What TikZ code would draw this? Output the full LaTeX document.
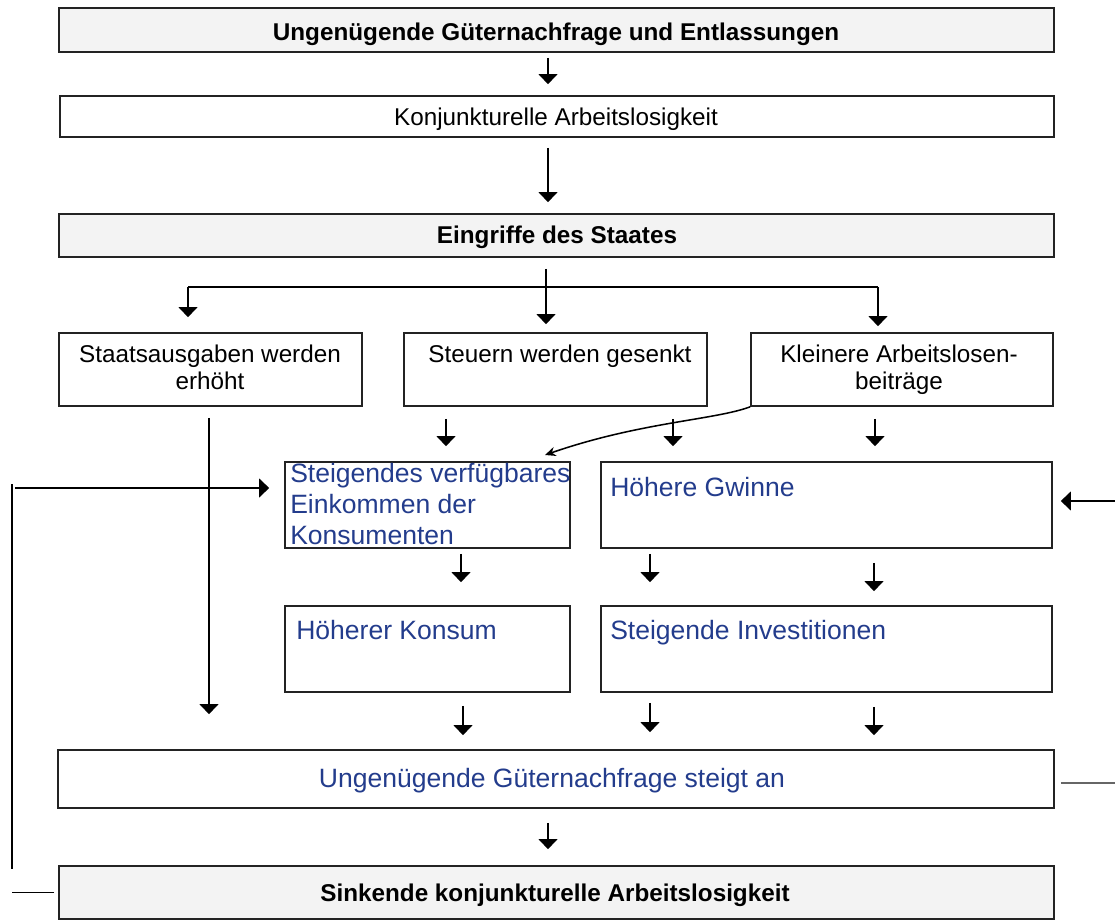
\documentclass[tikz,border=0pt]{standalone}
\usepackage{fontspec}
\setmainfont{Liberation Sans}
\usetikzlibrary{arrows.meta,fit}
\definecolor{boxline}{RGB}{35,35,35}
\definecolor{textblue}{RGB}{35,60,140}
\definecolor{shade}{RGB}{243,243,243}
\begin{document}
\begin{tikzpicture}[x=0.75pt,y=-0.75pt,
  box/.style={draw=boxline, line width=1.2pt, inner sep=0pt},
  shadedbox/.style={box, fill=shade},
  plain/.style={inner sep=0pt, font=\fontsize{18.2}{20.25}\selectfont},
  heavy/.style={inner sep=0pt, font=\fontsize{18.2}{20.25}\selectfont\bfseries},
  bluetext/.style={inner sep=0pt, text=textblue, font=\fontsize{19.9}{23.6}\selectfont},
  arr/.style={line width=1.25pt, -{Triangle[width=14pt,length=7.5pt]}},
  link/.style={line width=1.25pt},
  curvy/.style={line width=1.15pt, -{Stealth[length=8pt,width=7pt]}},
]
\useasboundingbox (0,0) rectangle (1115,921);

% boxes
\node[shadedbox, fit={(59,8) (1054,52)}] (b1) {};
\node[box, fit={(60,96) (1054,137)}] (b2) {};
\node[shadedbox, fit={(59,214) (1054,257)}] (b3) {};
\node[box, fit={(59,333) (362,406)}] (b4) {};
\node[box, fit={(404,333) (707,406)}] (b5) {};
\node[box, fit={(751,333) (1053,406)}] (b6) {};
\node[box, fit={(285,462) (570,548)}] (b7) {};
\node[box, fit={(601,462) (1052,548)}] (b8) {};
\node[box, fit={(285,606) (570,692)}] (b9) {};
\node[box, fit={(601,606) (1052,692)}] (b10) {};
\node[box, fit={(58,750) (1054,808)}] (b11) {};
\node[shadedbox, fit={(59,866) (1054,919)}] (b12) {};

% texts
\node[heavy, anchor=base] (t1) at (556,40) {Ungenügende Güternachfrage und Entlassungen};
\node[plain, anchor=base] (t2) at (556,125) {Konjunkturelle Arbeitslosigkeit};
\node[heavy, anchor=base] (t3) at (557,243) {Eingriffe des Staates};
\node[plain, anchor=base] (t4) at (210,362) {\begin{tabular}[t]{@{}c@{}}Staatsausgaben werden\\erhöht\end{tabular}};
\node[plain, anchor=base] (t5) at (560,362) {Steuern werden gesenkt};
\node[plain, anchor=base] (t6) at (899,362) {\begin{tabular}[t]{@{}c@{}}Kleinere Arbeitslosen-\\beiträge\end{tabular}};
\node[bluetext, anchor=base west] (t7) at (290,482) {\begin{tabular}[t]{@{}l@{}}Steigendes verfügbares\\Einkommen der\\Konsumenten\end{tabular}};
\node[bluetext, anchor=base west] (t8) at (610,496) {Höhere Gwinne};
\node[bluetext, anchor=base west] (t9) at (296,639) {Höherer Konsum};
\node[bluetext, anchor=base west] (t10) at (610,639) {Steigende Investitionen};
\node[bluetext, anchor=base] (t11) at (552,787) {Ungenügende Güternachfrage steigt an};
\node[heavy, anchor=base] (t12) at (555,901) {Sinkende konjunkturelle Arbeitslosigkeit};

% main chain
\draw[arr, shorten <=3.75pt, shorten >=8.25pt] (548,0 |- b1.south) -- (548,0 |- b2.north);
\draw[arr, shorten <=7.5pt, shorten >=8.25pt] (548,0 |- b2.south) -- (548,0 |- b3.north);

% fan-out of the state measures
\coordinate (fanL) at (188,287);
\coordinate (fanR) at (878,287);
\draw[link] (fanL) -- (fanR);
\draw[arr, shorten <=8.25pt, shorten >=6pt] (546,0 |- b3.south) -- (546,0 |- b5.north);
\draw[arr, shorten >=11.25pt] (fanL) -- (fanL |- b4.north);
\draw[arr, shorten >=4.5pt] (fanR) -- (fanR |- b6.north);

% effects of the measures
\draw[arr, shorten <=8.25pt, shorten >=26.25pt] (209,0 |- b4.south) -- (209,0 |- b11.north);
\draw[arr, shorten <=9pt, shorten >=11.25pt] (446,0 |- b5.south) -- (446,0 |- b7.north);
\draw[arr, shorten <=9pt, shorten >=11.25pt] (673,0 |- b5.south) -- (673,0 |- b8.north);
\draw[arr, shorten <=9pt, shorten >=11.25pt] (875,0 |- b6.south) -- (875,0 |- b8.north);
\coordinate (kTip) at (545,455);
\draw[curvy] (b6.south west) .. controls (715,420) and (640,422) .. (kTip);

% income and profits
\draw[arr, shorten <=3.75pt, shorten >=17.25pt] (461,0 |- b7.south) -- (461,0 |- b9.north);
\draw[arr, shorten <=3.75pt, shorten >=17.25pt] (650,0 |- b8.south) -- (650,0 |- b10.north);
\draw[arr, shorten <=10.5pt, shorten >=10.5pt] (874,0 |- b8.south) -- (874,0 |- b10.north);

% consumption and investment
\draw[arr, shorten <=9.75pt, shorten >=10.5pt] (463,0 |- b9.south) -- (463,0 |- b11.north);
\draw[arr, shorten <=7.5pt, shorten >=12.75pt] (650,0 |- b10.south) -- (650,0 |- b11.north);
\draw[arr, shorten <=10.5pt, shorten >=10.5pt] (874,0 |- b10.south) -- (874,0 |- b11.north);
\draw[arr, shorten <=10.5pt, shorten >=12pt] (548,0 |- b11.south) -- (548,0 |- b12.north);

% feedback loops
\coordinate (loopTop) at (12,484);
\coordinate (loopBot) at (12,869);
\draw[link] (loopTop) -- (loopBot);
\draw[arr, shorten >=11.25pt] (15,488) -- (b7.west |- 15,488);
\draw[link, shorten <=3pt] (b12.west) -- (12,893 |- b12.west);
\coordinate (rightIn) at (1116,501);
\draw[arr, shorten >=6pt] (rightIn) -- (b8.east |- rightIn);
\coordinate (rightOut) at (1116,783);
\draw[line width=2.2pt, black!60, shorten <=4.5pt] (b11.east |- rightOut) -- (rightOut);
\end{tikzpicture}
\end{document}
